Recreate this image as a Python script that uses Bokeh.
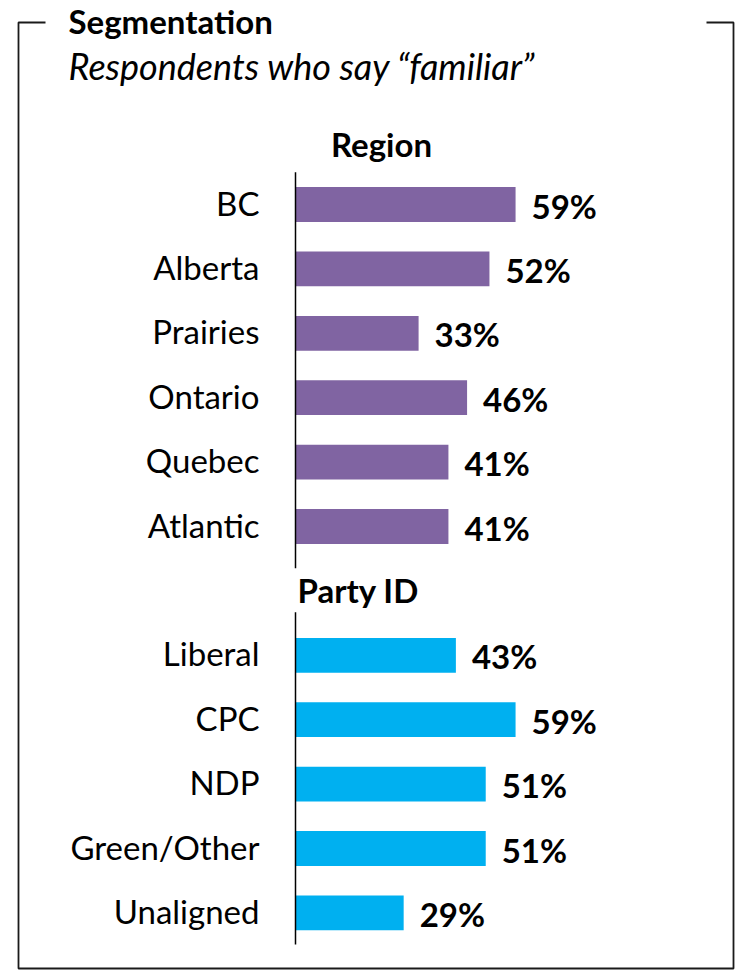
from bokeh.plotting import figure
from bokeh.models import ColumnDataSource, Range1d, Label
from bokeh.core.properties import value
from bokeh.embed import file_html
from bokeh.resources import INLINE

# ---- data ----
region_cats = ["BC", "Alberta", "Prairies", "Ontario", "Quebec", "Atlantic"]
region_vals = [59, 52, 33, 46, 41, 41]
party_cats = ["Liberal", "CPC", "NDP", "Green/Other", "Unaligned"]
party_vals = [43, 59, 51, 51, 29]
title_text = "Segmentation"
subtitle_text = "Respondents who say \u201cfamiliar\u201d"
region_header = "Region"
party_header = "Party ID"

PURPLE = "#8064A2"
BLUE = "#00B0F0"
FONT = "Lato"
FONT_V = value(FONT)

W, H = 756, 972
PX_PER_PCT = 3.73
X0 = 295          # px of the value 0
ROW_PX = 64.4
ROW0 = 204        # px (from top) of first row centre

region_rows = list(range(len(region_cats)))
party_rows = [len(region_cats) + 1 + i for i in range(len(party_cats))]

x_range = Range1d(-X0 / PX_PER_PCT, (W - X0) / PX_PER_PCT)
y_range = Range1d((H - ROW0) / ROW_PX, -ROW0 / ROW_PX)

def px2x(px):
    return (px - X0) / PX_PER_PCT

def px2y(py):
    return (py - ROW0) / ROW_PX

p = figure(width=W, height=H, x_range=x_range, y_range=y_range,
           output_backend="svg", toolbar_location=None,
           x_axis_location=None, y_axis_location=None, min_border=0)
p.xgrid.visible = False
p.ygrid.visible = False
p.outline_line_color = None
p.background_fill_color = "white"
p.border_fill_color = "white"

def group(cats, vals, rows, color, top_ext, bot_ext):
    src = ColumnDataSource(dict(
        cat=cats, val=vals, row=rows, zero=[0] * len(cats),
        lab=[f"{v}%" for v in vals]))
    p.hbar(y="row", left="zero", right="val", height=0.54, source=src,
           fill_color=color, line_color=None)
    p.text(x="zero", y="row", text="cat", source=src, x_offset=-36, y_offset=-2,
           text_align="right", text_baseline="middle",
           text_font=FONT_V, text_font_size="33px", text_color="#000000")
    p.text(x="val", y="row", text="lab", source=src, x_offset=16, y_offset=1,
           text_align="left", text_baseline="middle",
           text_font=FONT_V, text_font_size="33px", text_font_style="bold",
           text_color="#000000")
    p.segment(x0=[0], x1=[0], y0=[rows[0] - top_ext], y1=[rows[-1] + bot_ext],
              line_color="#000000", line_width=1.5)

group(region_cats, region_vals, region_rows, PURPLE, 0.5, 0.65)
group(party_cats, party_vals, party_rows, BLUE, 0.67, 0.49)

# headers and titles
p.add_layout(Label(x=381, y=H - 143, x_units="screen", y_units="screen",
                   text=region_header, text_align="center", text_baseline="middle",
                   text_font=FONT, text_font_size="33px", text_font_style="bold",
                   text_color="#000000"))
p.add_layout(Label(x=297, y=H - 589, x_units="screen", y_units="screen",
                   text=party_header, text_align="left", text_baseline="middle",
                   text_font=FONT, text_font_size="33px", text_font_style="bold",
                   text_color="#000000"))
p.add_layout(Label(x=68, y=H - 20, x_units="screen", y_units="screen",
                   text=title_text, text_align="left", text_baseline="middle",
                   text_font=FONT, text_font_size="33px", text_font_style="bold",
                   text_color="#000000"))
p.add_layout(Label(x=68, y=H - 65, x_units="screen", y_units="screen",
                   text=subtitle_text, text_align="left", text_baseline="middle",
                   text_font=FONT, text_font_size="36px", text_font_style="italic",
                   text_color="#000000"))

# frame (decoration)
L, R, T, B = 18, 733, 22, 968
fx = [px2x(45), px2x(L), px2x(L), px2x(R), px2x(R), px2x(706)]
fy = [px2y(T), px2y(T), px2y(B), px2y(B), px2y(T), px2y(T)]
p.line(x=fx, y=fy, line_color="#1a1a1a", line_width=1.8)

open("out.html", "w").write(file_html(p, INLINE))
